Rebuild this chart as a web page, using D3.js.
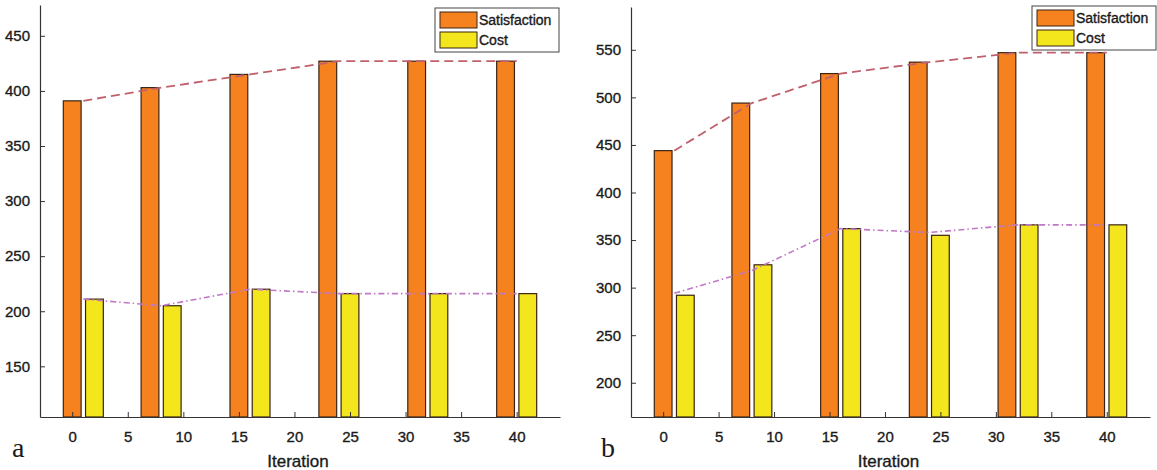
<!DOCTYPE html>
<html>
<head>
<meta charset="utf-8">
<script src="https://cdn.jsdelivr.net/npm/d3@7"></script>
<style>
  body { margin: 0; background: #fff; }
  text { font-family: "Liberation Sans", Arial, sans-serif; fill: #1a1a1a;
         stroke: #1a1a1a; stroke-width: 0.35px; }
  text.letter { stroke: none; }
</style>
</head>
<body>
<div id="chart"></div>
<script>
// ---------------- data ----------------
var iterations = [1, 8, 16, 24, 32, 40];   // group centres
var xTicks = [0, 5, 10, 15, 20, 25, 30, 35, 40];
var seriesNames = ["Satisfaction", "Cost"];

// panel a
var satA = [391, 403, 415, 427, 427, 427];
var costA = [211, 205, 220, 216, 216, 216];
var yTicksA = [150, 200, 250, 300, 350, 400, 450];

// panel b
var satB = [444, 494, 525, 537, 547, 547];
var costB = [292, 324, 362, 355, 366, 366];
var costLineB = [294, 318, 362, 358, 366, 366];
var yTicksB = [200, 250, 300, 350, 400, 450, 500, 550];

var colors = { sat: "#f5821f", cost: "#f3e61c", edge: "#3a2416",
               satLine: "#c0606c", costLine: "#c077c6" };

var svg = d3.select("#chart").append("svg")
  .attr("width", 1157).attr("height", 470);

function drawPanel(opt) {
  var x = d3.scaleLinear().domain([-2.9, 43.9]).range([opt.left, opt.right]);
  var y = d3.scaleLinear().domain(opt.yDomain).range([417, opt.top]);
  var g = svg.append("g");
  var barW = x(1.6) - x(0);

  // bars
  g.selectAll(".sat").data(opt.sat).enter().append("rect")
    .attr("x", (d, i) => x(iterations[i] - 1) - barW / 2)
    .attr("y", d => y(d))
    .attr("width", barW)
    .attr("height", d => y(opt.yDomain[0]) - y(d))
    .attr("fill", colors.sat).attr("stroke", colors.edge).attr("stroke-width", 1.2);

  g.selectAll(".cost").data(opt.cost).enter().append("rect")
    .attr("x", (d, i) => x(iterations[i] + 1) - barW / 2)
    .attr("y", d => y(d))
    .attr("width", barW)
    .attr("height", d => y(opt.yDomain[0]) - y(d))
    .attr("fill", colors.cost).attr("stroke", colors.edge).attr("stroke-width", 1.2);

  // trend lines
  var line = d3.line().x((d, i) => x(iterations[i])).y(d => y(d));
  g.append("path").datum(opt.satLine)
    .attr("d", line).attr("fill", "none")
    .attr("stroke", colors.satLine).attr("stroke-width", 1.8)
    .attr("stroke-dasharray", "9,5");
  g.append("path").datum(opt.costLine)
    .attr("d", line).attr("fill", "none")
    .attr("stroke", colors.costLine).attr("stroke-width", 1.6)
    .attr("stroke-dasharray", "6,3,1.5,3");

  // axes
  var xAxis = g.append("g")
    .attr("transform", `translate(0, 417)`)
    .call(d3.axisBottom(x).tickValues(xTicks).tickSizeInner(-5).tickSizeOuter(0).tickPadding(14));
  var yAxis = g.append("g")
    .attr("transform", `translate(${opt.left}, 0)`)
    .call(d3.axisLeft(y).tickValues(opt.yTicks).tickSizeInner(-5).tickSizeOuter(0).tickPadding(10));

  [xAxis, yAxis].forEach(function(a) {
    a.select(".domain").attr("stroke", "#333").attr("stroke-width", 1.2);
    a.selectAll(".tick line").attr("stroke", "#333");
    a.selectAll("text").style("font-size", "15px").attr("fill", "#1a1a1a")
      .style("font-family", "'Liberation Sans', Arial, sans-serif");
  });

  g.append("text")
    .attr("x", (opt.left + opt.right) / 2 - 2)
    .attr("y", 467)
    .attr("text-anchor", "middle")
    .style("font-size", "17px")
    .text("Iteration");

  // panel letter
  g.append("text").attr("class", "letter")
    .attr("x", opt.letterX).attr("y", 457)
    .style("font-family", "'Liberation Serif', 'Times New Roman', serif")
    .style("font-size", "28px")
    .text(opt.letter);

  // legend
  var lg = g.append("g").attr("transform", `translate(${opt.legX}, ${opt.legY})`);
  lg.append("rect").attr("width", 124).attr("height", 44)
    .attr("fill", "#fff").attr("stroke", "#444").attr("stroke-width", 1);
  [colors.sat, colors.cost].forEach(function(c, i) {
    lg.append("rect").attr("x", 5).attr("y", 4 + i * 20)
      .attr("width", 37).attr("height", 16)
      .attr("fill", c).attr("stroke", colors.edge).attr("stroke-width", 1);
    lg.append("text").attr("x", 44).attr("y", 17 + i * 20)
      .style("font-size", "14px").text(seriesNames[i]);
  });
}

drawPanel({ left: 40, right: 560, top: 5, yDomain: [104, 478],
  sat: satA, cost: costA, satLine: satA, costLine: costA, yTicks: yTicksA,
  letter: "a", letterX: 12, legX: 435, legY: 8 });

drawPanel({ left: 631, right: 1150, top: 7, yDomain: [164, 595],
  sat: satB, cost: costB, satLine: satB, costLine: costLineB, yTicks: yTicksB,
  letter: "b", letterX: 601, legX: 1032, legY: 6 });
</script>
</body>
</html>
